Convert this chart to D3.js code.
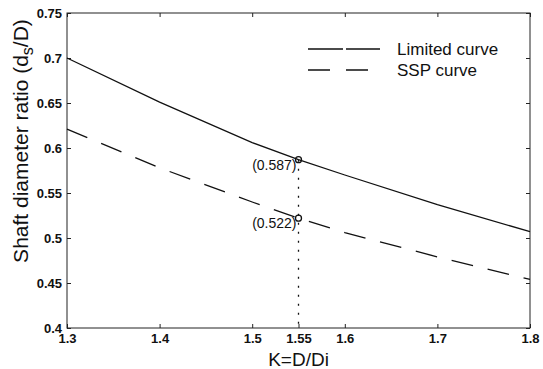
<!DOCTYPE html>
<html>
<head>
<meta charset="utf-8">
<script src="https://cdn.jsdelivr.net/npm/d3@7"></script>
<style>
  body { margin: 0; background: #fff; }
  text { font-family: "Liberation Sans", Arial, sans-serif; fill: #111; }
</style>
</head>
<body>
<div id="chart"></div>
<script>
// values
var kValues = [1.3, 1.4, 1.5, 1.55, 1.6, 1.7, 1.8];
var limitedCurve = [0.700, 0.651, 0.606, 0.587, 0.570, 0.537, 0.507];
var sspCurve = [0.621, 0.578, 0.540, 0.522, 0.506, 0.479, 0.454];
var xTicks = [1.3, 1.4, 1.5, 1.55, 1.6, 1.7, 1.8];
var yTicks = [0.4, 0.45, 0.5, 0.55, 0.6, 0.65, 0.7, 0.75];
var markK = 1.55;
var markLabels = ["(0.587)", "(0.522)"];

var width = 543, height = 369;
var margin = {top: 13, right: 13, bottom: 41, left: 67};

var svg = d3.select('#chart')
  .append('svg')
    .attr('width', width)
    .attr('height', height);

var x = d3.scaleLinear()
  .domain([1.3, 1.8])
  .range([margin.left, width - margin.right]);

var y = d3.scaleLinear()
  .domain([0.4, 0.75])
  .range([height - margin.bottom, margin.top]);

var fmt = function(d) { return String(d); };

// box with inward ticks on every side
svg.append("rect")
  .attr("x", x(1.3)).attr("y", y(0.75))
  .attr("width", x(1.8) - x(1.3)).attr("height", y(0.4) - y(0.75))
  .attr("fill", "none").attr("stroke", "#222").attr("stroke-width", 1);

svg.append("g")
  .attr("transform", "translate(0," + y(0.4) + ")")
  .call(d3.axisBottom(x).tickValues(xTicks).tickFormat(fmt).tickSizeInner(-4).tickSizeOuter(0).tickPadding(6));
svg.append("g")
  .attr("transform", "translate(" + x(1.3) + ",0)")
  .call(d3.axisLeft(y).tickValues(yTicks).tickFormat(fmt).tickSizeInner(-4).tickSizeOuter(0).tickPadding(5));
svg.append("g")
  .attr("transform", "translate(0," + y(0.75) + ")")
  .call(d3.axisTop(x).tickValues(xTicks.filter(function(d) { return d !== 1.55; })).tickFormat("").tickSizeInner(-4).tickSizeOuter(0));
svg.append("g")
  .attr("transform", "translate(" + x(1.8) + ",0)")
  .call(d3.axisRight(y).tickValues(yTicks).tickFormat("").tickSizeInner(-4).tickSizeOuter(0));

svg.selectAll(".domain").remove();
svg.selectAll(".tick line").attr("stroke", "#222");
svg.selectAll(".tick text")
  .attr("font-family", "Liberation Sans, Arial, sans-serif")
  .attr("font-size", 13).attr("font-weight", "bold")
  .style("font-weight", "bold").attr("fill", "#111");

// curves
var line = d3.line()
  .x(function(d) { return x(d[0]); })
  .y(function(d) { return y(d[1]); });

svg.append("path")
  .datum(d3.zip(kValues, limitedCurve))
  .attr("d", line)
  .attr("fill", "none").attr("stroke", "#111").attr("stroke-width", 1.3);

svg.append("path")
  .datum(d3.zip(kValues, sspCurve))
  .attr("d", line)
  .attr("fill", "none").attr("stroke", "#111").attr("stroke-width", 1.3)
  .attr("stroke-dasharray", "22,15");

// marker at K = 1.55
var markIdx = kValues.indexOf(markK);
svg.append("line")
  .attr("x1", x(markK)).attr("x2", x(markK))
  .attr("y1", y(limitedCurve[markIdx])).attr("y2", y(0.4))
  .attr("stroke", "#111").attr("stroke-width", 1.3)
  .attr("stroke-dasharray", "2,7");

[limitedCurve[markIdx], sspCurve[markIdx]].forEach(function(v, i) {
  svg.append("circle")
    .attr("cx", x(markK)).attr("cy", y(v)).attr("r", 3)
    .attr("fill", "none").attr("stroke", "#111").attr("stroke-width", 1.3);
  svg.append("text")
    .attr("x", x(markK) - 2).attr("y", y(v) + 10)
    .attr("text-anchor", "end")
    .style("font-size", "14px")
    .text(markLabels[i]);
});

// legend
var legend = ["Limited curve", "SSP curve"];
legend.forEach(function(d, i) {
  var ly = 49 + i * 21;
  svg.append("line")
    .attr("x1", 308).attr("x2", 380).attr("y1", ly).attr("y2", ly)
    .attr("stroke", "#111").attr("stroke-width", 1.3)
    .attr("stroke-dasharray", i === 0 ? "35,3,34" : "22,16");
  svg.append("text")
    .attr("x", 397).attr("y", ly + 6)
    .style("font-size", "17px")
    .text(d);
});

// axis titles
svg.append("text")
  .attr("x", x(markK)).attr("y", 366)
  .attr("text-anchor", "middle")
  .style("font-size", "19px")
  .text("K=D/Di");

var yTitle = svg.append("text")
  .attr("transform", "translate(28,141) rotate(-90)")
  .attr("text-anchor", "middle")
  .style("font-size", "21px");
yTitle.append("tspan").text("Shaft diameter ratio (d");
yTitle.append("tspan").attr("dy", 5).style("font-size", "16px").text("s");
yTitle.append("tspan").attr("dy", -5).text("/D)");
</script>
</body>
</html>
